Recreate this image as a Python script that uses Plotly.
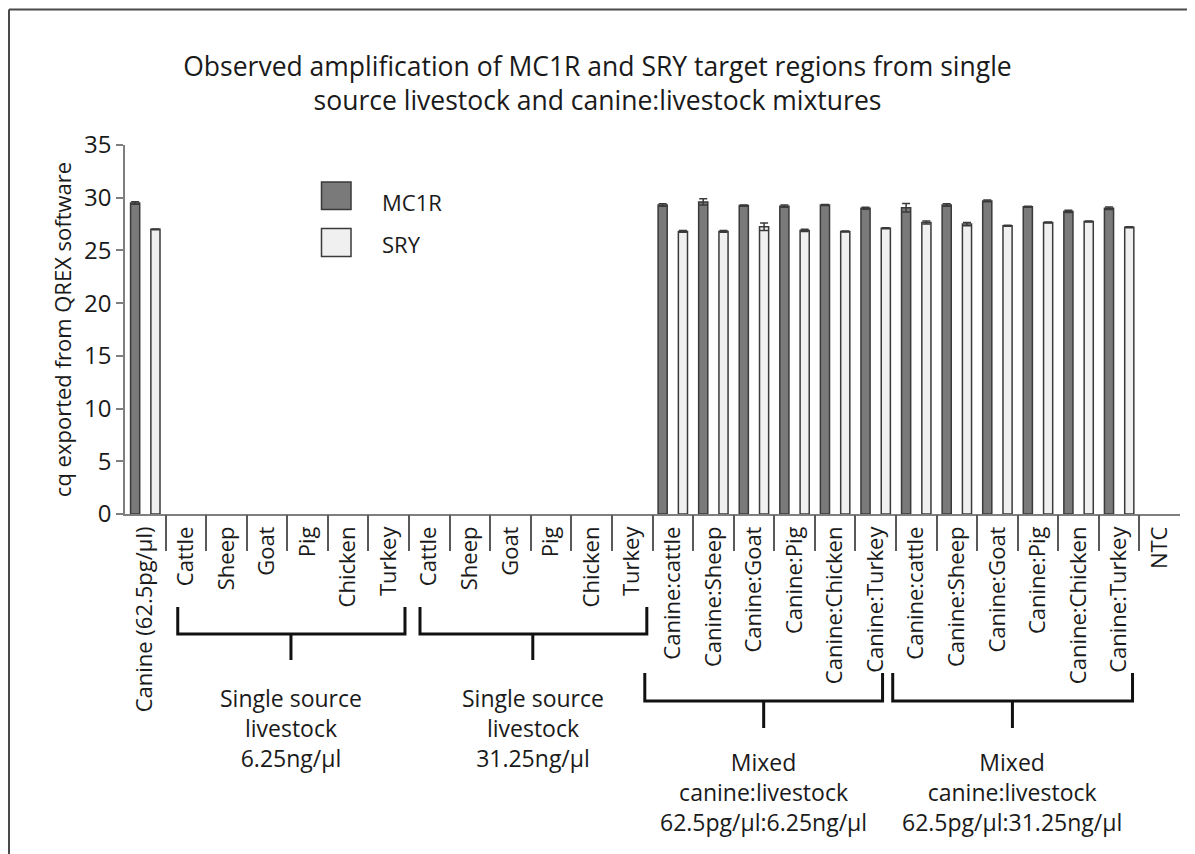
import plotly.graph_objects as go

# ---------------- data ----------------
categories = [
    "Canine (62.5pg/µl)",
    "Cattle", "Sheep", "Goat", "Pig", "Chicken", "Turkey",
    "Cattle", "Sheep", "Goat", "Pig", "Chicken", "Turkey",
    "Canine:cattle", "Canine:Sheep", "Canine:Goat", "Canine:Pig", "Canine:Chicken", "Canine:Turkey",
    "Canine:cattle", "Canine:Sheep", "Canine:Goat", "Canine:Pig", "Canine:Chicken", "Canine:Turkey",
    "NTC",
]
N = None
mc1r = [29.5, N, N, N, N, N, N, N, N, N, N, N, N,
        29.3, 29.6, 29.25, 29.2, 29.3, 29.0,
        29.05, 29.3, 29.7, 29.15, 28.7, 29.0, N]
mc1r_err = [0.12, N, N, N, N, N, N, N, N, N, N, N, N,
            0.12, 0.3, 0.05, 0.1, 0.05, 0.1,
            0.4, 0.12, 0.08, 0.05, 0.1, 0.12, N]
sry = [27.0, N, N, N, N, N, N, N, N, N, N, N, N,
       26.8, 26.8, 27.25, 26.9, 26.8, 27.1,
       27.65, 27.5, 27.35, 27.65, 27.75, 27.2, N]
sry_err = [0.03, N, N, N, N, N, N, N, N, N, N, N, N,
           0.08, 0.08, 0.35, 0.1, 0.05, 0.05,
           0.15, 0.15, 0.05, 0.05, 0.05, 0.05, N]

groups = [
    ("Single source<br>livestock<br>6.25ng/µl", 0.8, 6.4, 3.59, "upper"),
    ("Single source<br>livestock<br>31.25ng/µl", 6.77, 12.36, 9.55, "upper"),
    ("Mixed<br>canine:livestock<br>62.5pg/µl:6.25ng/µl", 12.31, 18.17, 15.24, "lower"),
    ("Mixed<br>canine:livestock<br>62.5pg/µl:31.25ng/µl", 18.42, 24.33, 21.37, "lower"),
]

title_text = ("Observed amplification of MC1R and SRY target regions from single<br>"
              "source livestock and canine:livestock mixtures")
y_title = "cq exported from QREX software"

# ---------------- layout helpers ----------------
W, H = 1195, 854
OFF = 8                      # page body margin offset (absolute -> figure coords)
L, T = 125 - OFF, 145 - OFF  # plot area left / top in figure coords
R = W - (1180 - OFF)
B = H - (514 - OFF)
PW, PH = W - L - R, H - T - B
FONT = "Open Sans"
TXT = "#1a1a1a"


def px2x(px):
    return (px - OFF - L) / PW


def py2y(py):
    return (H - B - (py - OFF)) / PH


xi = list(range(len(categories)))
boundaries = [i + 0.5 for i in range(len(categories) - 1)]

fig = go.Figure()
fig.add_trace(go.Bar(
    x=xi, y=mc1r, name="MC1R",
    marker=dict(color="#7a7a7a", line=dict(color="#3a3a3a", width=1.5)),
    error_y=dict(type="data", array=mc1r_err, color="#3a3a3a", thickness=1.5, width=4),
    showlegend=False, hoverinfo="x+y",
))
fig.add_trace(go.Bar(
    x=xi, y=sry, name="SRY",
    marker=dict(color="#f0f0f0", line=dict(color="#3a3a3a", width=1.5)),
    error_y=dict(type="data", array=sry_err, color="#3a3a3a", thickness=1.5, width=4),
    showlegend=False, hoverinfo="x+y",
))
# invisible trace carrying the boundary-tick axis
fig.add_trace(go.Scatter(x=[0], y=[0], xaxis="x2", mode="markers",
                         marker=dict(opacity=0), hoverinfo="skip", showlegend=False))

shapes = []
annotations = []

# brackets
for label, x0, x1, xs, level in groups:
    if level == "upper":
        ytop, ymid, ybot, ytxt = 607, 634, 660, 680
    else:
        ytop, ymid, ybot, ytxt = 673, 701, 728, 744
    path = (f"M {x0} {py2y(ytop)} L {x0} {py2y(ymid)} L {x1} {py2y(ymid)} "
            f"L {x1} {py2y(ytop)} M {xs} {py2y(ymid)} L {xs} {py2y(ybot)}")
    shapes.append(dict(type="path", xref="x", yref="paper", path=path,
                       line=dict(color="#111111", width=3)))
    annotations.append(dict(x=xs, xref="x", y=py2y(ytxt), yref="paper",
                            text=label, showarrow=False, xanchor="center", yanchor="top",
                            align="center", font=dict(family=FONT, size=23, color=TXT)))

# legend drawn as boxes + text
shapes.append(dict(type="rect", xref="paper", yref="paper",
                   x0=px2x(321.5), x1=px2x(351), y0=py2y(209.5), y1=py2y(182),
                   fillcolor="#7a7a7a", line=dict(color="#3a3a3a", width=1.5)))
shapes.append(dict(type="rect", xref="paper", yref="paper",
                   x0=px2x(321.5), x1=px2x(351), y0=py2y(256.5), y1=py2y(228.5),
                   fillcolor="#f0f0f0", line=dict(color="#3a3a3a", width=1.5)))
annotations.append(dict(x=px2x(380), y=py2y(202), xref="paper", yref="paper",
                        text="MC1R", showarrow=False, xanchor="left", yanchor="middle",
                        font=dict(family=FONT, size=22, color=TXT)))
annotations.append(dict(x=px2x(380), y=py2y(244), xref="paper", yref="paper",
                        text="SRY", showarrow=False, xanchor="left", yanchor="middle",
                        font=dict(family=FONT, size=22, color=TXT)))

# outer frame (top + left)
shapes.append(dict(type="line", xref="paper", yref="paper",
                   x0=px2x(OFF + 1), x1=px2x(W + 20), y0=py2y(9.5), y1=py2y(9.5),
                   line=dict(color="#4a4a4a", width=2)))
shapes.append(dict(type="line", xref="paper", yref="paper",
                   x0=px2x(OFF + 1), x1=px2x(OFF + 1), y0=py2y(9.5), y1=py2y(H + 20),
                   line=dict(color="#4a4a4a", width=2)))

fig.update_layout(
    width=W, height=H,
    margin=dict(l=L, r=R, t=T, b=B, autoexpand=False),
    paper_bgcolor="white", plot_bgcolor="white",
    barmode="group", bargap=0.0, bargroupgap=0.55,
    font=dict(family=FONT, color=TXT),
    title=dict(text=title_text, x=0.5 - OFF / W, xref="container", xanchor="center",
               y=1 - 68 / H, yref="container", yanchor="top",
               font=dict(family=FONT, size=26.5, color=TXT)),
    xaxis=dict(
        range=[-0.5, len(categories) - 0.5],
        tickmode="array", tickvals=xi, ticktext=categories,
        tickangle=-90, ticks="", showgrid=False, zeroline=False,
        showline=True, linecolor="#7f7f7f", linewidth=1.5,
        tickfont=dict(family=FONT, size=22, color=TXT),
        ticklabelstandoff=2, automargin=False,
    ),
    xaxis2=dict(
        overlaying="x", anchor="y", side="bottom",
        range=[-0.5, len(categories) - 0.5],
        tickmode="array", tickvals=boundaries,
        ticks="outside", ticklen=36, tickwidth=1.5, tickcolor="#595959",
        showticklabels=False, showgrid=False, zeroline=False, showline=False,
        automargin=False,
    ),
    yaxis=dict(
        range=[0, 35], dtick=5, tick0=0,
        ticks="outside", ticklen=7, tickwidth=1.5, tickcolor="#7f7f7f",
        showline=True, linecolor="#7f7f7f", linewidth=1.5,
        showgrid=False, zeroline=False,
        tickfont=dict(family=FONT, size=24, color=TXT),
        ticklabelstandoff=0,
        title=dict(text=y_title, standoff=6, font=dict(family=FONT, size=22, color=TXT)),
        automargin=False,
    ),
    shapes=shapes, annotations=annotations,
)

fig.write_html("out.html")
